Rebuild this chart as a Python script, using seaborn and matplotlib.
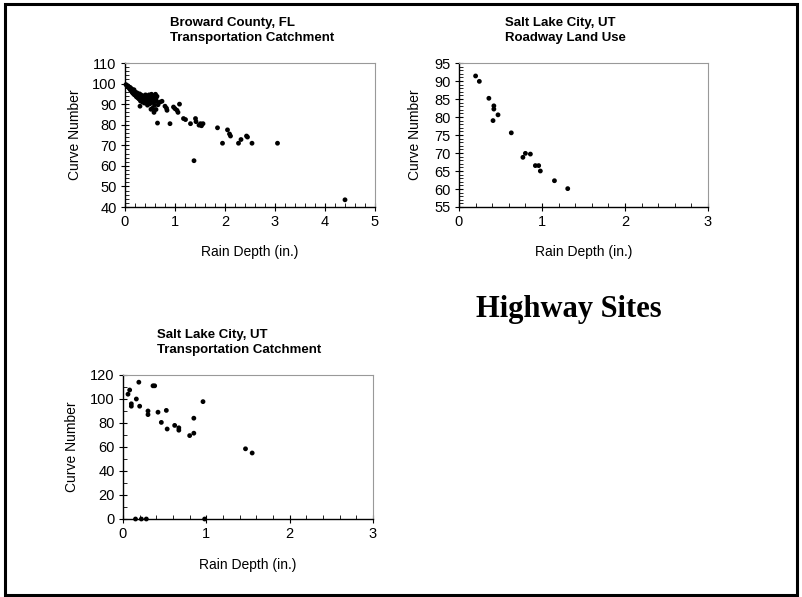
import matplotlib
matplotlib.use("Agg")
import matplotlib.pyplot as plt
import seaborn as sns
import pandas as pd
from matplotlib.patches import Rectangle
from matplotlib.ticker import MultipleLocator

# ---- Data ----
broward_x = [0.02, 0.04, 0.05, 0.06, 0.08, 0.09, 0.10, 0.11, 0.12, 0.13, 0.14, 0.15, 0.16, 0.17,
             0.18, 0.19, 0.20, 0.21, 0.22, 0.23, 0.24, 0.25, 0.26, 0.27, 0.28, 0.29, 0.30, 0.31,
             0.32, 0.33, 0.34, 0.35, 0.36, 0.37, 0.38, 0.39, 0.40, 0.41, 0.42, 0.43, 0.44, 0.45,
             0.46, 0.47, 0.48, 0.50, 0.51, 0.52, 0.53, 0.55, 0.56, 0.57, 0.58, 0.59, 0.60, 0.61,
             0.62, 0.63, 0.64, 0.30, 0.45, 0.55, 0.58, 0.52,
             0.46, 0.50, 0.57, 0.62, 0.66, 0.65, 0.70, 0.74, 0.80, 0.84, 0.83, 0.90, 0.97, 1.00,
             1.04, 1.06, 1.09, 1.17, 1.21, 1.31, 1.41, 1.42, 1.48, 1.51, 1.53, 1.56, 1.38, 1.85,
             1.95, 2.05, 2.11, 2.09, 2.27, 2.32, 2.43, 2.45, 2.54, 3.05, 4.40]
broward_cn = [99.5, 99.0, 98.5, 98.8, 98.0, 97.5, 98.2, 97.0, 96.5, 97.5, 96.0, 95.5, 96.8, 95.0,
              97.0, 94.5, 96.0, 95.2, 94.0, 93.5, 95.5, 94.8, 93.0, 94.2, 92.5, 95.0, 93.8, 91.5,
              94.5, 92.8, 93.5, 91.0, 94.0, 92.2, 93.2, 90.5, 92.0, 94.5, 93.0, 91.5, 92.5, 93.8,
              90.8, 92.0, 94.5, 93.0, 91.2, 92.5, 94.8, 93.5, 91.0, 92.5, 94.0, 89.5, 92.0, 94.8,
              93.0, 91.5, 93.8, 89.0, 89.5, 88.0, 86.0, 87.5,
              90.6, 90.2, 91.0, 87.4, 89.7, 80.8, 91.0, 91.4, 89.0, 87.0, 88.0, 80.5, 88.6, 87.8,
              87.0, 86.0, 90.0, 83.0, 82.5, 80.5, 83.0, 81.5, 79.8, 80.5, 79.5, 80.5, 62.5, 78.5,
              71.0, 77.5, 74.5, 75.5, 71.0, 72.8, 74.5, 74.0, 71.0, 71.0, 43.5]

slc_road_x = [0.20, 0.245, 0.36, 0.42, 0.42, 0.41, 0.47, 0.63, 0.77, 0.80, 0.86, 0.92, 0.96, 0.98, 1.15, 1.31]
slc_road_cn = [91.4, 89.9, 85.2, 83.1, 82.2, 79.0, 80.6, 75.6, 68.8, 69.9, 69.7, 66.5, 66.5, 65.0, 62.3, 60.1]

slc_trans_x = [0.06, 0.08, 0.10, 0.10, 0.16, 0.19, 0.20, 0.36, 0.38, 0.30, 0.30, 0.42, 0.46, 0.52,
               0.53, 0.62, 0.67, 0.67, 0.80, 0.85, 0.85, 0.96, 1.47, 1.55, 0.15, 0.22, 0.28, 0.98]
slc_trans_cn = [104, 107.5, 96, 94, 100, 114, 94, 111, 111, 90, 87, 89, 80.5, 90.5,
                75, 78, 76, 74, 69.5, 71.5, 84, 97.8, 58.5, 55, 0, 0, 0, 0]

W, H = 803, 597
sns.set_style("white")
plt.rcParams["font.family"] = ["Liberation Sans", "DejaVu Sans"]
plt.rcParams["text.color"] = "black"
plt.rcParams["axes.labelcolor"] = "black"
plt.rcParams["xtick.color"] = "black"
plt.rcParams["ytick.color"] = "black"

fig = plt.figure(figsize=(W / 100, H / 100), dpi=100)


def make_ax(left, top, right, bottom):
    return fig.add_axes([left / W, 1 - bottom / H, (right - left) / W, (bottom - top) / H])


def style(ax, xlim, ylim, xmaj, xmin, ymaj, ymin, xlab_off, ylab_off):
    ax.set_xlim(*xlim)
    ax.set_ylim(*ylim)
    ax.xaxis.set_major_locator(MultipleLocator(xmaj))
    ax.xaxis.set_minor_locator(MultipleLocator(xmin))
    ax.yaxis.set_major_locator(MultipleLocator(ymaj))
    ax.yaxis.set_minor_locator(MultipleLocator(ymin))
    ax.tick_params(which="major", direction="inout", length=6, width=0.8, labelsize=10.5,
                   bottom=True, left=True, color="black", labelcolor="black", pad=3)
    ax.tick_params(which="minor", direction="in", length=3, width=0.6,
                   bottom=True, left=True, color="black")
    for s in ["left", "bottom"]:
        ax.spines[s].set_color("black")
        ax.spines[s].set_linewidth(1.0)
    for s in ["top", "right"]:
        ax.spines[s].set_color("#999999")
        ax.spines[s].set_linewidth(0.8)
    ax.set_xlabel("Rain Depth (in.)", fontsize=10, color="black")
    ax.set_ylabel("Curve Number", fontsize=10, color="black")
    bb = ax.get_position()
    wpx = bb.width * W
    hpx = bb.height * H
    ax.xaxis.set_label_coords(0.5, -xlab_off / hpx)
    ax.xaxis.label.set_va("center")
    ax.yaxis.set_label_coords(-ylab_off / wpx, 0.5)
    ax.yaxis.label.set_va("center")


ax1 = make_ax(125, 63, 375, 207)
ax2 = make_ax(459, 63, 708, 207)
ax3 = make_ax(123, 375, 373, 519)

df1 = pd.DataFrame({"x": broward_x, "y": broward_cn})
df2 = pd.DataFrame({"x": slc_road_x, "y": slc_road_cn})
df3 = pd.DataFrame({"x": slc_trans_x, "y": slc_trans_cn})

for ax, df in [(ax1, df1), (ax2, df2), (ax3, df3)]:
    sns.scatterplot(data=df, x="x", y="y", ax=ax, color="black", s=12,
                    edgecolor="none", linewidth=0, clip_on=False)

style(ax1, (0, 5), (40, 110), 1, 0.2, 10, 2, 45, 50)
style(ax2, (0, 3), (55, 95), 1, 0.2, 5, 1, 45, 44)
style(ax3, (0, 3), (0, 120), 1, 0.2, 20, 10, 46, 51)

fig.text(170 / W, 1 - 30.5 / H, "Broward County, FL\nTransportation Catchment",
         ha="left", va="center", fontsize=9.5, fontweight="bold", linespacing=1.3, color="black")
fig.text(505 / W, 1 - 30.5 / H, "Salt Lake City, UT\nRoadway Land Use",
         ha="left", va="center", fontsize=9.5, fontweight="bold", linespacing=1.3, color="black")
fig.text(157 / W, 1 - 342.5 / H, "Salt Lake City, UT\nTransportation Catchment",
         ha="left", va="center", fontsize=9.5, fontweight="bold", linespacing=1.3, color="black")

fig.text(569 / W, 1 - 310 / H, "Highway Sites", ha="center", va="center",
         fontsize=22, fontweight="bold", color="black",
         family=["Liberation Serif", "DejaVu Serif"])

fig.patches.append(Rectangle((5 / W, 1 - 595 / H), 792 / W, 591 / H,
                             transform=fig.transFigure, fill=False,
                             edgecolor="black", linewidth=2.2))

fig.savefig("out.png", dpi=100)
